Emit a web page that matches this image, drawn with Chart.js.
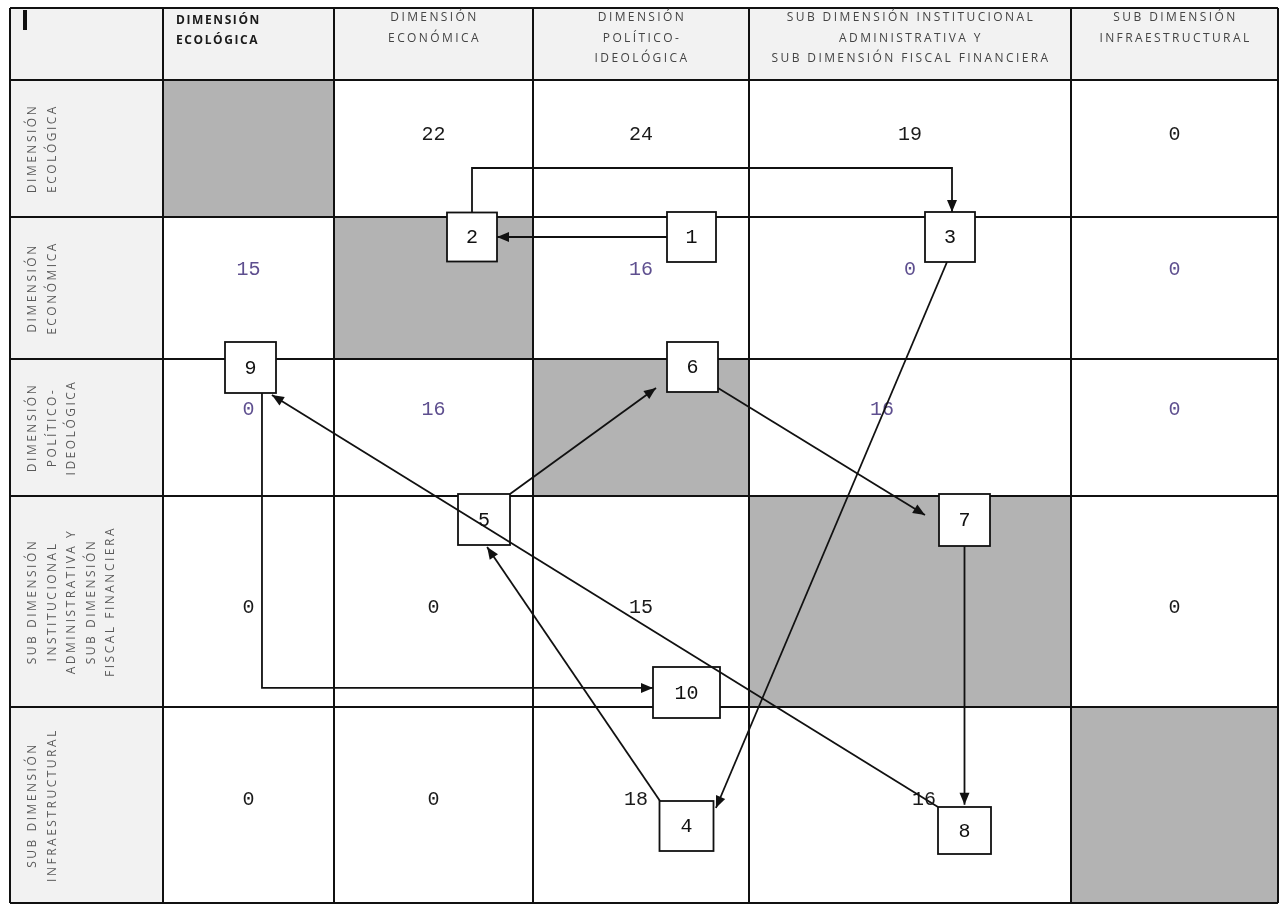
<!DOCTYPE html>
<html>
<head>
<meta charset="utf-8">
<script src="https://cdn.jsdelivr.net/npm/chart.js@4.4.1/dist/chart.umd.min.js"></script>
<style>
  html, body { margin: 0; padding: 0; background: #fff; }
  #wrap { width: 1279px; height: 904px; }
</style>
</head>
<body>
<div id="wrap"><canvas id="matrix" width="1279" height="904"></canvas></div>
<script>
// Column headers, one entry per printed line
const columnHeaders = [
  ["DIMENSIÓN", "ECOLÓGICA"],
  ["DIMENSIÓN", "ECONÓMICA"],
  ["DIMENSIÓN", "POLÍTICO-", "IDEOLÓGICA"],
  ["SUB DIMENSIÓN INSTITUCIONAL", "ADMINISTRATIVA Y", "SUB DIMENSIÓN FISCAL FINANCIERA"],
  ["SUB DIMENSIÓN", "INFRAESTRUCTURAL"],
]

// Row headers (printed rotated)
const rowHeaders = [
  ["DIMENSIÓN", "ECOLÓGICA"],
  ["DIMENSIÓN", "ECONÓMICA"],
  ["DIMENSIÓN", "POLÍTICO-", "IDEOLÓGICA"],
  ["SUB DIMENSIÓN", "INSTITUCIONAL", "ADMINISTRATIVA Y", "SUB DIMENSIÓN", "FISCAL FINANCIERA"],
  ["SUB DIMENSIÓN", "INFRAESTRUCTURAL"],
]

// Matrix values (null = shaded diagonal cell)
const rowEcologica = [null, 22, 24, 19, 0]
const rowEconomica = [15, null, 16, 0, 0]
const rowPolitica = [0, 16, null, 16, 0]
const rowInstitucional = [0, 0, 15, null, 0]
const rowInfraestructural = [0, 0, 18, 16, null]
const matrixValues = [rowEcologica, rowEconomica, rowPolitica, rowInstitucional, rowInfraestructural]

// Rows whose numbers are printed in purple
const highlightedRows = [1, 2]

// Numbered steps of the route, in order
const routeSteps = [1, 2, 3, 4, 5, 6, 7, 8, 9, 10]

// ---- layout (drawing units = reference pixels) ----
const colEdges = [10, 163, 334, 533, 749, 1071, 1278]
const rowEdges = [8, 80, 217, 359, 496, 707, 903]
const valueShiftY = [-14, -18, -18, 6, -5]
const valueShiftX = { "2,3": -28, "4,3": 14, "4,2": -5 }

const boxes = {
  1: { x: 691.5, y: 237, w: 49, h: 50 },
  2: { x: 472, y: 237, w: 50, h: 49 },
  3: { x: 950, y: 237, w: 50, h: 50 },
  4: { x: 686.5, y: 826, w: 54, h: 50 },
  5: { x: 484, y: 519.5, w: 52, h: 51 },
  6: { x: 692.5, y: 367, w: 51, h: 50 },
  7: { x: 964.5, y: 520, w: 51, h: 52 },
  8: { x: 964.5, y: 830.5, w: 53, h: 47 },
  9: { x: 250.5, y: 367.5, w: 51, h: 51 },
  10: { x: 686.5, y: 692.5, w: 67, h: 51 },
}

// Where each link leaves / enters a box (fractions of half width / height)
const linkAnchors = [
  { from: [-1, 0], to: [1, 0] },
  { from: [0, -1], to: [0.08, -1], elbowY: 168 },
  { from: [-0.12, 1], to: [1.09, -0.72] },
  { from: [-0.98, -1], to: [0.12, 1.08] },
  { from: [1, -1], to: [-1.43, 0.84] },
  { from: [1, 0.84], to: [-1.55, -0.19] },
  { from: [0, 1], to: [0, -1.1] },
  { from: [-1, -1], to: [0.84, 1.08] },
  { from: [0.45, 1], to: [-1, -0.18], corner: true },
]

function anchor(id, a) {
  const b = boxes[id]
  return { x: b.x + (a[0] * b.w) / 2, y: b.y + (a[1] * b.h) / 2 }
}

// Build one line dataset per link of the route
const linkDatasets = routeSteps.slice(0, -1).map((step, i) => {
  const spec = linkAnchors[i]
  const p0 = anchor(step, spec.from)
  const p1 = anchor(routeSteps[i + 1], spec.to)
  let pts = [p0, p1]
  if (spec.elbowY !== undefined) {
    pts = [p0, { x: p0.x, y: spec.elbowY }, { x: p1.x, y: spec.elbowY }, p1]
  } else if (spec.corner) {
    pts = [p0, { x: p0.x, y: p1.y }, p1]
  }
  return {
    label: `${step} → ${routeSteps[i + 1]}`,
    data: pts,
    showLine: true,
    borderColor: "#111",
    borderWidth: 1.8,
    pointRadius: 0,
    tension: 0,
    fill: false,
  }
})

const FONT_LABEL = "'Open Sans', 'Liberation Sans', sans-serif"
const FONT_NUM = "'Liberation Mono', 'DejaVu Sans Mono', monospace"

const tablePlugin = {
  id: "tablePlugin",
  beforeDatasetsDraw(chart) {
    const ctx = chart.ctx
    const sx = chart.scales.x
    const sy = chart.scales.y
    const X = (v) => sx.getPixelForValue(v)
    const Y = (v) => sy.getPixelForValue(v)
    const nCols = colEdges.length - 1
    const nRows = rowEdges.length - 1

    ctx.save()
    ctx.fillStyle = "#fff"
    ctx.fillRect(0, 0, chart.width, chart.height)

    // header backgrounds
    ctx.fillStyle = "#f2f2f2"
    ctx.fillRect(X(colEdges[0]), Y(rowEdges[0]), X(colEdges[nCols]) - X(colEdges[0]), Y(rowEdges[1]) - Y(rowEdges[0]))
    ctx.fillRect(X(colEdges[0]), Y(rowEdges[0]), X(colEdges[1]) - X(colEdges[0]), Y(rowEdges[nRows]) - Y(rowEdges[0]))

    // shaded diagonal
    ctx.fillStyle = "#b3b3b3"
    matrixValues.forEach((row, r) => {
      row.forEach((v, c) => {
        if (v === null) {
          const x0 = X(colEdges[c + 1]), x1 = X(colEdges[c + 2])
          const y0 = Y(rowEdges[r + 1]), y1 = Y(rowEdges[r + 2])
          ctx.fillRect(x0, y0, x1 - x0, y1 - y0)
        }
      })
    })

    // grid
    ctx.strokeStyle = "#111"
    ctx.lineWidth = 2
    colEdges.forEach((e) => {
      ctx.beginPath()
      ctx.moveTo(X(e), Y(rowEdges[0]))
      ctx.lineTo(X(e), Y(rowEdges[nRows]))
      ctx.stroke()
    })
    rowEdges.forEach((e) => {
      ctx.beginPath()
      ctx.moveTo(X(colEdges[0]), Y(e))
      ctx.lineTo(X(colEdges[nCols]), Y(e))
      ctx.stroke()
    })

    // corner mark
    ctx.fillStyle = "#111"
    ctx.fillRect(X(23), Y(10), 4, Y(30) - Y(10))

    // column headers
    ctx.textBaseline = "middle"
    columnHeaders.forEach((lines, c) => {
      const left = X(colEdges[c + 1]), right = X(colEdges[c + 2])
      lines.forEach((line, i) => {
        if (c === 0) {
          ctx.letterSpacing = "1.6px"
          ctx.font = `bold 12px ${FONT_LABEL}`
          ctx.fillStyle = "#1a1a1a"
          ctx.textAlign = "left"
          ctx.fillText(line, left + 13, Y(21 + i * 20))
        } else {
          ctx.letterSpacing = "2.4px"
          ctx.font = `12px ${FONT_LABEL}`
          ctx.fillStyle = "#444"
          ctx.textAlign = "center"
          ctx.fillText(line, (left + right) / 2 + 1, Y(18 + i * 20.5))
        }
      })
    })

    // row headers (rotated)
    ctx.letterSpacing = "2.5px"
    ctx.font = `12px ${FONT_LABEL}`
    ctx.fillStyle = "#5a5a5a"
    ctx.textAlign = "center"
    rowHeaders.forEach((lines, r) => {
      const cy = (Y(rowEdges[r + 1]) + Y(rowEdges[r + 2])) / 2
      lines.forEach((line, i) => {
        ctx.save()
        ctx.translate(X(33 + i * 19.5), cy)
        ctx.rotate(-Math.PI / 2)
        ctx.fillText(line, 0, 0)
        ctx.restore()
      })
    })
    ctx.letterSpacing = "0px"

    // matrix values
    ctx.font = `20px ${FONT_NUM}`
    ctx.textAlign = "center"
    matrixValues.forEach((row, r) => {
      row.forEach((v, c) => {
        if (v === null) return
        const cx = (colEdges[c + 1] + colEdges[c + 2]) / 2 + (valueShiftX[`${r},${c}`] || 0)
        const cy = (rowEdges[r + 1] + rowEdges[r + 2]) / 2 + valueShiftY[r]
        ctx.fillStyle = highlightedRows.includes(r) ? "#5e4f8f" : "#1a1a1a"
        ctx.fillText(String(v), X(cx), Y(cy))
      })
    })

    // numbered boxes
    routeSteps.forEach((step) => {
      const b = boxes[step]
      const x0 = X(b.x - b.w / 2), y0 = Y(b.y - b.h / 2)
      const w = X(b.x + b.w / 2) - x0, h = Y(b.y + b.h / 2) - y0
      ctx.fillStyle = "#fff"
      ctx.fillRect(x0, y0, w, h)
      ctx.strokeStyle = "#111"
      ctx.lineWidth = 1.8
      ctx.strokeRect(x0, y0, w, h)
      ctx.fillStyle = "#111"
      ctx.font = `20px ${FONT_NUM}`
      ctx.fillText(String(step), X(b.x), Y(b.y) + 1)
    })
    ctx.restore()
  },
  afterDatasetsDraw(chart) {
    const ctx = chart.ctx
    ctx.save()
    ctx.fillStyle = "#111"
    chart.data.datasets.forEach((ds, i) => {
      const meta = chart.getDatasetMeta(i)
      const pts = meta.data
      const a = pts[pts.length - 2], b = pts[pts.length - 1]
      const ang = Math.atan2(b.y - a.y, b.x - a.x)
      const len = 12, half = 5
      ctx.beginPath()
      ctx.moveTo(b.x, b.y)
      ctx.lineTo(b.x - len * Math.cos(ang) + half * Math.sin(ang), b.y - len * Math.sin(ang) - half * Math.cos(ang))
      ctx.lineTo(b.x - len * Math.cos(ang) - half * Math.sin(ang), b.y - len * Math.sin(ang) + half * Math.cos(ang))
      ctx.closePath()
      ctx.fill()
    })
    ctx.restore()
  },
}

new Chart(document.getElementById("matrix"), {
  type: "scatter",
  data: { datasets: linkDatasets },
  options: {
    responsive: false,
    animation: false,
    layout: { padding: 0 },
    scales: {
      x: { type: "linear", min: 0, max: 1279, display: false },
      y: { type: "linear", min: 0, max: 904, reverse: true, display: false },
    },
    plugins: {
      legend: { display: false },
      tooltip: { enabled: false },
    },
  },
  plugins: [tablePlugin],
})
</script>
</body>
</html>
